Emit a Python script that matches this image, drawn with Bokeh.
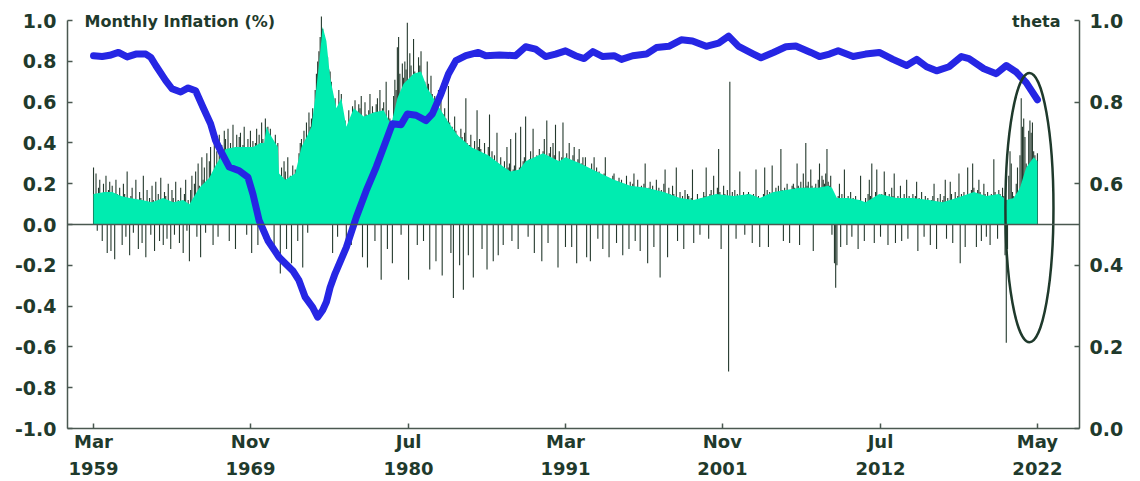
from bokeh.plotting import figure
from bokeh.models import Range1d, LinearAxis, FixedTicker, Label, Span, NumeralTickFormatter
from bokeh.embed import file_html
from bokeh.resources import INLINE

# ---------------- data ----------------
# Monthly inflation (%), Mar 1959 .. May 2022, one row per calendar year
infl_1959_1969 = [
    0.28, 0.12, 0.25, -0.03, 0.18, 0.22, 0.10, -0.08, 0.20, 0.14,
    0.24, -0.14, 0.17, 0.21, -0.13, 0.19, 0.08, -0.17, 0.22, 0.15, 0.05, 0.18,
    0.12, -0.10, 0.20, 0.15, -0.06, 0.26, 0.09, -0.15, 0.14, 0.18, -0.04, 0.11,
    0.22, 0.06, -0.12, 0.16, 0.13, -0.09, 0.24, 0.10, -0.16, 0.17, 0.08, 0.13,
    -0.05, 0.19, 0.12, -0.13, 0.21, 0.09, 0.15, -0.08, 0.23, 0.11, -0.10, 0.16,
    0.14, -0.07, 0.20, 0.10, -0.12, 0.17, 0.13, -0.05, 0.21, 0.06, 0.12, -0.09,
    0.18, 0.09, -0.14, 0.15, 0.22, -0.03, 0.12, -0.18, 0.17, 0.24, 0.08, 0.20,
    0.26, -0.06, 0.30, 0.19, -0.16, 0.33, 0.22, 0.28, -0.04, 0.35, 0.18, 0.31,
    0.38, 0.12, -0.10, 0.41, 0.27, 0.36, -0.06, 0.44, 0.30, 0.39, 0.24, 0.46,
    0.42, 0.31, 0.47, -0.08, 0.40, 0.36, 0.49, 0.29, -0.12, 0.44, 0.38, 0.43,
    0.45, 0.33, 0.39, 0.48, 0.30, -0.05, 0.42, 0.37, 0.46, -0.14, 0.41, 0.35,
]
infl_1970s = [
    0.40, 0.47, -0.10, 0.44, 0.36, 0.50, 0.42, -0.07, 0.52, 0.45, 0.48, 0.43,
    0.47, 0.34, 0.41, -0.11, 0.44, 0.37, 0.40, 0.15, -0.24, 0.28, 0.20, 0.31,
    0.26, -0.12, 0.33, 0.18, 0.24, -0.19, 0.29, 0.21, 0.27, 0.12, -0.08, 0.35,
    0.40, 0.42, -0.21, 0.46, 0.38, 0.50, -0.04, 0.55, 0.48, 0.52, 0.57, 0.50,
    0.66, 0.74, 0.80, 0.85, 0.92, 1.02, 0.96, 0.93, 0.90, 0.86, 0.82, 0.76,
    0.75, 0.70, -0.14, 0.58, 0.62, 0.55, -0.06, 0.66, 0.60, 0.64, 0.52, 0.49,
    0.51, -0.13, 0.45, 0.56, 0.50, -0.10, 0.58, 0.53, 0.61, 0.47, 0.55, 0.59,
    0.57, 0.63, -0.16, 0.52, 0.60, 0.54, -0.21, 0.56, 0.64, 0.50, 0.58, 0.55,
    -0.08, 0.59, 0.62, 0.55, 0.66, -0.27, 0.57, 0.60, 0.53, 0.70, -0.12, 0.56,
    0.52, 0.47, -0.19, 0.63, 0.71, 0.66, 0.87, 0.92, 0.74, -0.05, 0.79, 0.72,
]
infl_1980s = [
    0.80, 0.76, 0.99, -0.27, 0.84, 0.78, 0.72, 0.91, 0.75, 0.70, -0.10, 0.82,
    0.78, 0.85, 0.72, -0.08, 0.70, 0.66, 0.80, 0.69, -0.22, 0.73, 0.64, 0.61,
    0.63, -0.18, 0.58, 0.66, 0.55, 0.61, -0.25, 0.54, 0.57, 0.52, 0.49, 0.68,
    0.50, -0.14, 0.48, -0.36, 0.53, 0.46, 0.44, 0.41, -0.20, 0.47, 0.43, -0.32,
    0.45, 0.62, 0.40, -0.15, 0.39, 0.44, 0.36, -0.26, 0.41, 0.35, 0.56, 0.38,
    0.42, 0.37, -0.12, 0.35, 0.40, 0.33, -0.22, 0.38, 0.54, 0.31, 0.36, -0.18,
    0.34, 0.30, 0.45, -0.15, 0.29, 0.33, 0.27, -0.10, 0.31, 0.26, 0.38, 0.28,
    0.30, 0.42, -0.08, 0.27, 0.29, 0.45, 0.25, -0.12, 0.28, 0.48, 0.24, 0.31,
    0.33, 0.53, 0.29, -0.06, 0.32, 0.36, 0.28, 0.47, -0.14, 0.31, 0.34, 0.30,
    0.37, 0.33, -0.18, 0.36, 0.42, 0.34, 0.51, -0.09, 0.35, 0.38, 0.32, 0.40,
]
infl_1990s = [
    0.34, 0.49, 0.31, -0.21, 0.36, 0.30, 0.33, 0.50, 0.28, -0.11, 0.35, 0.32,
    0.40, 0.29, -0.11, 0.34, 0.38, 0.27, -0.19, 0.32, 0.37, 0.26, 0.30, 0.33,
    0.29, 0.33, -0.16, 0.27, 0.25, -0.18, 0.30, 0.24, 0.33, 0.22, 0.28, -0.07,
    0.26, 0.24, 0.21, -0.12, 0.25, 0.33, 0.20, 0.23, -0.16, 0.22, 0.19, 0.24,
    0.25, 0.18, -0.09, 0.21, 0.23, 0.19, 0.22, -0.15, 0.20, 0.17, 0.24, 0.18,
    -0.12, 0.21, 0.16, 0.20, 0.25, -0.08, 0.18, 0.22, 0.15, -0.13, 0.19, 0.17,
    0.20, 0.30, 0.15, -0.19, 0.18, 0.21, 0.14, 0.19, -0.11, 0.17, 0.22, 0.16,
    0.18, -0.26, 0.17, 0.14, 0.20, 0.27, 0.13, -0.16, 0.18, 0.15, 0.12, 0.19,
    0.15, 0.11, 0.28, -0.08, 0.13, 0.16, 0.10, 0.14, -0.12, 0.17, 0.12, 0.15,
    0.14, 0.10, 0.13, 0.27, -0.09, 0.11, 0.12, 0.15, 0.09, -0.05, 0.13, 0.11,
]
infl_2000s = [
    0.16, 0.14, 0.28, 0.12, -0.07, 0.15, 0.17, 0.13, 0.24, 0.14, 0.11, 0.18,
    0.37, 0.16, -0.12, 0.13, 0.19, 0.15, 0.14, 0.17, -0.72, 0.70, 0.12, 0.16,
    0.13, 0.17, -0.07, 0.15, 0.12, 0.26, 0.14, 0.11, 0.16, -0.05, 0.13, 0.15,
    0.16, 0.14, 0.12, -0.09, 0.15, 0.13, 0.27, 0.11, 0.14, -0.11, 0.12, 0.13,
    0.15, 0.28, 0.13, 0.17, -0.11, 0.16, 0.14, 0.29, 0.15, 0.12, 0.18, 0.16,
    0.19, 0.15, 0.37, 0.17, -0.08, 0.18, 0.16, 0.20, 0.15, -0.09, 0.17, 0.19,
    0.20, 0.18, 0.16, 0.30, 0.19, -0.10, 0.21, 0.17, 0.25, 0.18, 0.40, 0.19,
    0.21, 0.17, 0.27, 0.19, -0.13, 0.18, 0.20, 0.16, 0.22, 0.30, 0.18, 0.24,
    0.22, 0.20, 0.25, 0.37, 0.21, 0.19, 0.24, -0.05, 0.12, -0.19, -0.31, -0.20,
    0.14, 0.20, -0.11, 0.15, 0.12, 0.27, 0.13, -0.10, 0.14, 0.11, 0.16, -0.06,
]
infl_2010s = [
    0.13, 0.10, 0.14, 0.11, -0.12, 0.12, 0.24, 0.09, 0.11, -0.08, 0.13, 0.10,
    0.15, 0.22, 0.14, 0.30, 0.13, -0.09, 0.16, 0.27, 0.14, 0.12, -0.06, 0.15,
    0.14, 0.26, 0.16, 0.13, -0.10, 0.15, 0.12, 0.18, 0.14, 0.25, -0.09, 0.13,
    0.14, 0.12, 0.19, -0.08, 0.13, 0.15, 0.11, 0.22, -0.07, 0.14, 0.12, 0.13,
    0.15, 0.12, 0.14, 0.21, -0.13, 0.13, 0.11, 0.16, 0.12, -0.06, 0.14, 0.12,
    0.13, 0.11, -0.10, 0.12, 0.14, 0.20, 0.10, -0.12, 0.13, 0.11, 0.15, 0.10,
    0.12, 0.14, 0.22, -0.07, 0.13, 0.11, 0.21, 0.15, -0.09, 0.12, 0.16, 0.13,
    0.14, 0.25, -0.19, 0.15, 0.13, 0.16, -0.11, 0.14, 0.28, 0.15, 0.12, 0.17,
    0.30, 0.18, 0.15, -0.11, 0.17, 0.22, 0.16, -0.08, 0.14, 0.20, 0.15, -0.06,
    0.16, 0.14, -0.10, 0.15, 0.13, 0.32, 0.16, 0.14, -0.07, 0.17, 0.15, 0.13,
]
infl_2020s = [
    0.18, 0.14, -0.15, -0.58, -0.12, 0.24, 0.36, 0.30, 0.16, 0.14, 0.12, 0.20,
    0.28, 0.15, 0.34, 0.62, 0.48, 0.52, 0.43, 0.30, 0.27, 0.46, 0.51, 0.45,
    0.50, 0.36, 0.34, 0.30, 0.35,
]

# Smoothed (trend) monthly inflation, green area
trend_dates = ["1959-03", "1959-12", "1960-06", "1961-01", "1961-08", "1962-06", "1963-02",
               "1963-11", "1964-07", "1965-03", "1965-08", "1965-11", "1966-04", "1966-12",
               "1967-05", "1967-09", "1968-01", "1968-09", "1969-06", "1969-11", "1970-05",
               "1970-08", "1970-10", "1970-12", "1971-05", "1971-07", "1971-08", "1972-01",
               "1972-09", "1973-02", "1973-07", "1973-10", "1974-01", "1974-04", "1974-07",
               "1974-10", "1975-01", "1975-06", "1975-10", "1976-02", "1976-08", "1977-04",
               "1977-12", "1978-08", "1979-02", "1979-07", "1979-12", "1980-08", "1981-02",
               "1981-07", "1982-03", "1982-11", "1983-07", "1984-06", "1985-08", "1986-09",
               "1987-02", "1987-09", "1988-02", "1989-04", "1990-05", "1990-10", "1991-10",
               "1992-11", "1994-01", "1995-02", "1996-03", "1997-05", "1998-06", "1999-05",
               "2000-11", "2002-01", "2003-02", "2003-10", "2004-09", "2005-07", "2006-06",
               "2007-09", "2008-05", "2008-08", "2008-12", "2009-09", "2010-06", "2010-11",
               "2011-10", "2012-12", "2014-01", "2015-02", "2016-01", "2016-12", "2018-02",
               "2018-12", "2019-10", "2020-04", "2020-10", "2021-03", "2021-08", "2022-02",
               "2022-05"]
trend_values = [0.15, 0.16, 0.16, 0.14, 0.13, 0.12, 0.11,
                0.13, 0.11, 0.12, 0.10, 0.13, 0.18, 0.23,
                0.29, 0.33, 0.37, 0.38, 0.38, 0.38, 0.40,
                0.40, 0.48, 0.45, 0.40, 0.38, 0.25, 0.22,
                0.25, 0.38, 0.44, 0.48, 0.62, 0.78, 0.97,
                0.90, 0.72, 0.57, 0.62, 0.48, 0.57, 0.53,
                0.55, 0.56, 0.49, 0.62, 0.69, 0.74, 0.75,
                0.67, 0.59, 0.51, 0.44, 0.38, 0.34, 0.28,
                0.26, 0.27, 0.31, 0.35, 0.31, 0.33, 0.30,
                0.26, 0.22, 0.19, 0.18, 0.16, 0.13, 0.12,
                0.15, 0.14, 0.15, 0.13, 0.16, 0.17, 0.18,
                0.18, 0.19, 0.18, 0.13, 0.13, 0.12, 0.11,
                0.15, 0.13, 0.13, 0.12, 0.11, 0.13, 0.16,
                0.14, 0.15, 0.12, 0.13, 0.18, 0.28, 0.33,
                0.31]

# theta (right axis)
theta_dates = ["1959-03", "1959-10", "1960-04", "1960-11", "1961-06", "1962-01", "1962-09",
               "1963-01", "1963-05", "1964-01", "1964-06", "1965-01", "1965-07", "1966-01",
               "1966-07", "1967-01", "1967-05", "1967-09", "1968-04", "1968-12", "1969-07",
               "1969-11", "1970-04", "1970-11", "1971-08", "1972-07", "1972-12", "1973-05",
               "1973-11", "1974-03", "1974-07", "1974-10", "1975-01", "1975-05", "1976-02",
               "1976-10", "1977-06", "1978-02", "1978-10", "1979-03", "1979-10", "1980-03",
               "1980-10", "1981-06", "1981-11", "1982-06", "1982-12", "1983-06", "1984-02",
               "1984-12", "1985-06", "1986-05", "1987-06", "1988-02", "1988-10", "1989-06",
               "1990-02", "1990-10", "1991-06", "1992-01", "1992-08", "1993-04", "1994-01",
               "1994-07", "1995-04", "1996-03", "1996-11", "1997-09", "1998-07", "1999-04",
               "2000-03", "2001-01", "2001-09", "2002-05", "2003-05", "2003-11", "2004-09",
               "2005-07", "2006-03", "2007-03", "2007-10", "2008-06", "2009-01", "2010-01",
               "2010-11", "2011-10", "2012-09", "2013-08", "2014-04", "2014-12", "2015-08",
               "2016-06", "2017-04", "2017-10", "2018-10", "2019-08", "2020-04", "2020-12",
               "2021-08", "2022-05"]
theta_values = [0.914, 0.912, 0.915, 0.922, 0.911, 0.918, 0.918,
                0.910, 0.890, 0.853, 0.833, 0.825, 0.835, 0.828,
                0.787, 0.747, 0.706, 0.681, 0.641, 0.632, 0.616,
                0.575, 0.510, 0.461, 0.420, 0.387, 0.363, 0.322,
                0.297, 0.273, 0.290, 0.310, 0.346, 0.380, 0.444,
                0.518, 0.583, 0.641, 0.706, 0.747, 0.745, 0.771,
                0.768, 0.755, 0.771, 0.820, 0.869, 0.902, 0.914,
                0.922, 0.914, 0.916, 0.914, 0.936, 0.930, 0.912,
                0.918, 0.926, 0.914, 0.907, 0.924, 0.912, 0.914,
                0.905, 0.914, 0.918, 0.934, 0.937, 0.953, 0.950,
                0.937, 0.945, 0.962, 0.937, 0.918, 0.909, 0.922,
                0.936, 0.938, 0.922, 0.912, 0.918, 0.926, 0.912,
                0.918, 0.922, 0.905, 0.890, 0.905, 0.887, 0.877,
                0.887, 0.912, 0.907, 0.882, 0.870, 0.890, 0.874,
                0.848, 0.806]

tick_labels = ["Mar\n1959", "Nov\n1969", "Jul\n1980", "Mar\n1991",
               "Nov\n2001", "Jul\n2012", "May\n2022"]
left_ticks = [-1.0, -0.8, -0.6, -0.4, -0.2, 0.0, 0.2, 0.4, 0.6, 0.8, 1.0]
right_ticks = [0.0, 0.2, 0.4, 0.6, 0.8, 1.0]

# ---------------- helpers ----------------
def month_index(s):
    y, m = s.split("-")
    return (int(y) - 1959) * 12 + (int(m) - 3)

inflation = infl_1959_1969 + infl_1970s + infl_1980s + infl_1990s + infl_2000s + infl_2010s + infl_2020s
n = len(inflation)
xs = list(range(n))
last = n - 1

trend_x = [month_index(d) for d in trend_dates]
theta_x = [month_index(d) for d in theta_dates]

TEXT = "#1f3a2c"
AXIS = "#4a5850"
BAR = "#24392d"
GREEN = "#00ECB0"
BLUE = "#2626E4"
FONT = "DejaVu Sans"

p = figure(width=1140, height=481,
           x_range=Range1d(-20.9, last + 33.8),
           y_range=Range1d(-1.0, 1.035),
           output_backend="svg", toolbar_location=None,
           min_border_left=67, min_border_right=61,
           min_border_top=13, min_border_bottom=53)
p.extra_y_ranges = {"theta": Range1d(0.0, 1.0175)}
p.outline_line_color = None
p.xgrid.visible = False
p.ygrid.visible = False
p.background_fill_color = "white"
p.border_fill_color = "white"

# monthly bars (behind the trend area)
p.segment(x0=xs, y0=[0] * n, x1=xs, y1=inflation, line_color=BAR, line_width=1.1)
# trend area
p.varea(x=trend_x, y1=[0] * len(trend_x), y2=trend_values, fill_color=GREEN)
# zero line
p.add_layout(Span(location=0, dimension="width", line_color=AXIS, line_width=1.5))
# theta line
p.line(theta_x, theta_values, y_range_name="theta", line_color=BLUE,
       line_width=7, line_join="round", line_cap="round")
# highlight ellipse around the latest months
p.ellipse(x=[last - 6.4], y=[0.083], width=[38.6], height=[1.32],
          fill_color=None, line_color=TEXT, line_width=2.5)

def style_axis(ax, size):
    ax.axis_line_color = AXIS
    ax.axis_line_width = 1.5
    ax.major_tick_line_color = AXIS
    ax.major_tick_line_width = 1.5
    ax.major_tick_in = 5
    ax.major_tick_out = 0
    ax.minor_tick_line_color = None
    ax.major_label_text_color = TEXT
    ax.major_label_text_font = FONT
    ax.major_label_text_font_style = "bold"
    ax.major_label_text_font_size = size

# x axis
xa = p.xaxis[0]
style_axis(xa, "18px")
tick_pos = [round(k * last / 6) for k in range(7)]
xa.ticker = FixedTicker(ticks=tick_pos)
xa.major_label_overrides = {t: lab for t, lab in zip(tick_pos, tick_labels)}
xa.major_label_text_line_height = 1.3
xa.major_label_standoff = 2

# left axis
ya = p.yaxis[0]
style_axis(ya, "19px")
ya.ticker = FixedTicker(ticks=left_ticks)
ya.formatter = NumeralTickFormatter(format="0.0")
ya.bounds = (-1.0, 1.0)
ya.major_label_standoff = 11

# right axis
ra = LinearAxis(y_range_name="theta")
style_axis(ra, "19px")
ra.ticker = FixedTicker(ticks=right_ticks)
ra.formatter = NumeralTickFormatter(format="0.0")
ra.bounds = (0.0, 1.0)
ra.major_label_standoff = 10
p.add_layout(ra, "right")

p.add_layout(Label(x=-7.2, y=0.995, text="Monthly Inflation (%)", text_baseline="middle",
                   text_align="left", text_font=FONT, text_font_style="bold",
                   text_font_size="16px", text_color=TEXT))
p.add_layout(Label(x=776.5, y=0.995, text="theta", text_baseline="middle",
                   text_align="right", text_font=FONT, text_font_style="bold",
                   text_font_size="16px", text_color=TEXT))

open("out.html", "w").write(file_html(p, INLINE))
